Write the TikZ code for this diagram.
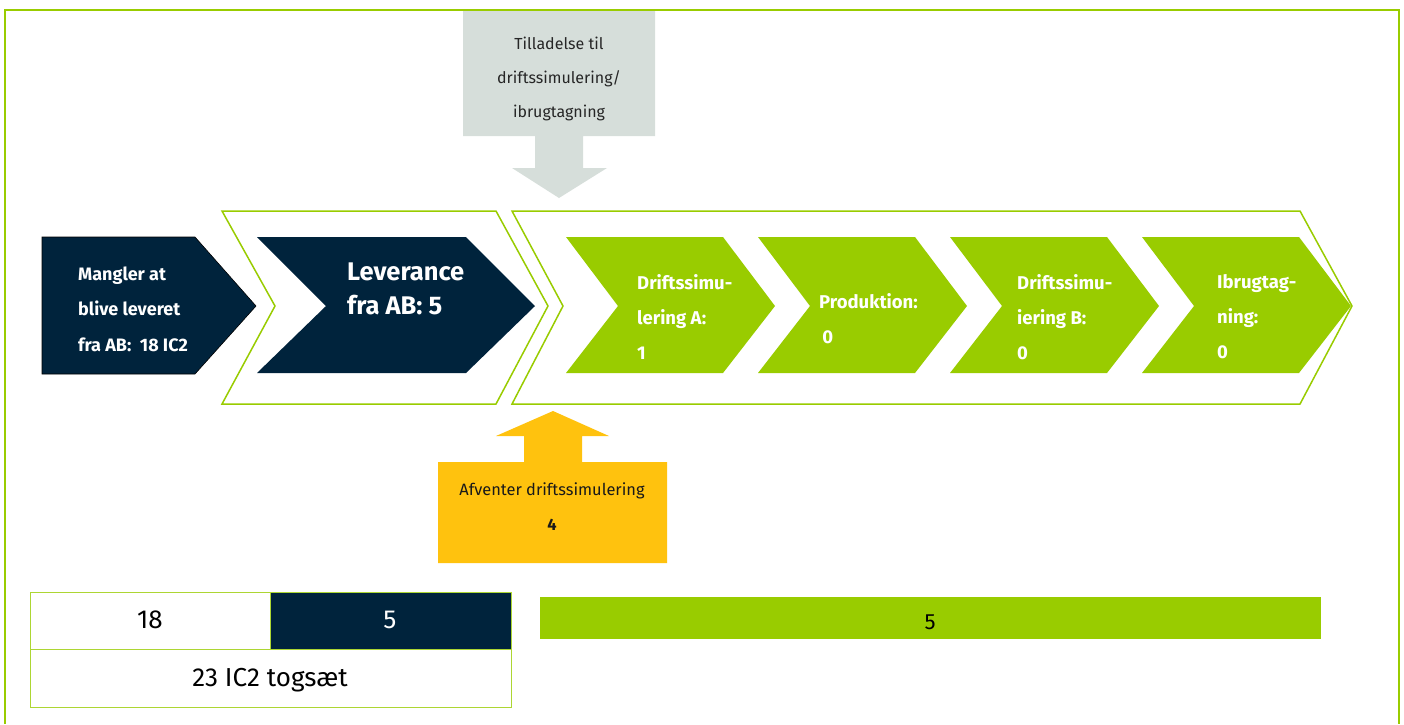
\documentclass[tikz,border=0pt]{standalone}
\usepackage{fontspec}
\setmainfont{Fira Sans}
\definecolor{navy}{RGB}{0,35,60}
\definecolor{dsbgreen}{RGB}{153,204,0}
\definecolor{lgray}{RGB}{214,222,218}
\definecolor{dsbyellow}{RGB}{255,194,14}
\tikzset{
  darkshape/.style={fill=navy},
  greenshape/.style={fill=dsbgreen},
  outline/.style={draw=dsbgreen, line width=1.5pt, fill=white},
  whitetxt/.style={text=white, font=\fontsize{18}{35.5}\selectfont\bfseries, align=left, inner sep=0pt},
  greentxt/.style={text=white, font=\fontsize{18.5}{35}\selectfont\bfseries, align=left, inner sep=0pt, anchor=west},
  celltxt/.style={font=\fontsize{26}{28}\selectfont, inner sep=0pt},
}
\begin{document}
\begin{tikzpicture}[x=1pt,y=-1pt]
\useasboundingbox (0,0) rectangle (1404,724);
% gray arrow
\fill[lgray] (463,11)--(655,11)--(655,136)--(583,136)--(583,168)--(607,168)--(559,198)--(512,168)--(535,168)--(535,136)--(463,136)--cycle;
\node[align=center, inner sep=0pt, font=\fontsize{16}{34}\selectfont, text=black!85] (tilladelse) at (559,79) {Tilladelse til\\driftssimulering/\\ibrugtagning};
% frame
\draw[dsbgreen, line width=2pt] (5,724) -- (5,10) -- (1399,10) -- (1399,724);
% outline chevrons
\path[outline] (222,211)--(496,211)--(548,306)--(496,404)--(222,404)--(275,306)--cycle;
\path[outline] (512,211)--(1300,211)--(1352,306)--(1300,404)--(512,404)--(563,306)--cycle;
% dark shapes
\path[darkshape, draw=black, line width=0.6pt] (42,237)--(195,237)--(256,306)--(195,374)--(42,374)--cycle;
\path[darkshape] (257,237)--(466,237)--(535,306)--(466,373)--(257,373)--(326,306)--cycle;
\node[whitetxt, anchor=west] (mangler) at (78,309) {Mangler at\\blive leveret\\fra AB:\ \ 18 IC2};
\node[whitetxt, anchor=west, font=\fontsize{25.5}{34}\selectfont\bfseries] (leverance) at (347,289) {Leverance\\fra AB: 5};
% green chevrons
\foreach \x in {566,758,950,1142}{
  \path[greenshape] (\x,237)--++(157,0)--++(52,69)--++(-52,67)--++(-157,0)--++(52,-67)--cycle;
}
\node[greentxt] (dsA) at (637,317) {Driftssimu-\\lering A:\\1};
\node[greentxt] (prod) at (819,318.5) {Produktion:\\\,0};
\node[greentxt] (dsB) at (1017,317) {Driftssimu-\\iering B:\\0};
\node[greentxt] (ibrug) at (1217,317) {Ibrugtag-\\ning:\\0};
% yellow arrow
\fill[dsbyellow] (438,462)--(524,462)--(524,436)--(496,436)--(553,411)--(609,436)--(582,436)--(582,462)--(667,462)--(667,563)--(438,563)--cycle;
\node[align=center, inner sep=0pt, font=\fontsize{16.4}{35}\selectfont, text=black!90] (afventer) at (552,507) {Afventer driftssimulering\\\textbf{4}};
% table
\fill[navy] (270,592) rectangle (511,649);
\draw[dsbgreen!80, line width=1pt] (30,592) rectangle (511,707) (30,649) -- (511,649) (270,592) -- (270,649);
\node[celltxt] (c18) at (150,620) {18};
\node[celltxt, text=white] (c5) at (390,620) {5};
\node[celltxt] (total) at (270,680) {23 IC2 togsæt};
% green bar
\fill[dsbgreen] (540,597) rectangle (1321,639);
\node[celltxt, font=\fontsize{22}{24}\selectfont] (bar5) at (930,622) {5};
\end{tikzpicture}
\end{document}
